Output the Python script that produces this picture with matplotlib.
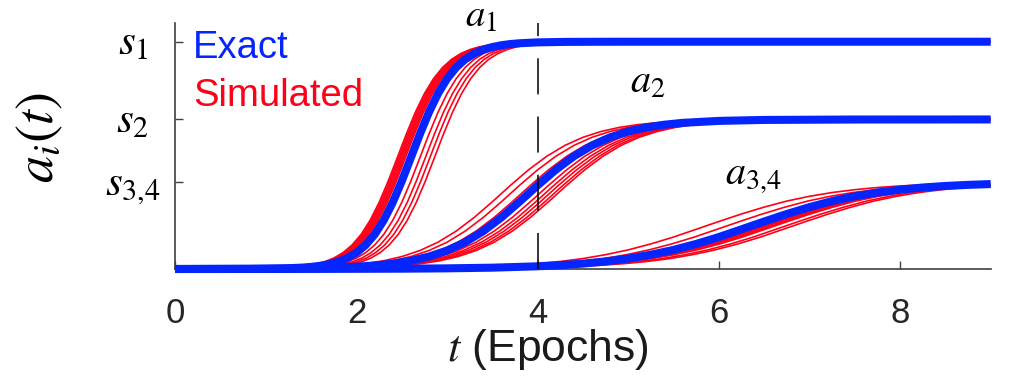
import matplotlib
matplotlib.use("Agg")
import matplotlib.pyplot as plt
import numpy as np

plt.rcParams['font.family'] = ['Liberation Sans', 'DejaVu Sans']
plt.rcParams['mathtext.fontset'] = 'stix'

# exact trajectories (y in units of s1)
a1_t = [0, 0.8, 1.2, 1.4, 1.5, 1.6, 1.7, 1.8, 1.9, 2.0, 2.1, 2.2, 2.3, 2.4, 2.5,
        2.6, 2.7, 2.8, 2.9, 3.0, 3.1, 3.2, 3.3, 3.4, 3.5, 3.6, 3.7, 3.8, 4.0,
        4.3, 4.7, 5.5, 9.0]
a1_exact = [0.0, 0.0005, 0.0027, 0.0062, 0.0094, 0.0142, 0.0215, 0.0323, 0.0483,
            0.0718, 0.1053, 0.1519, 0.2142, 0.2932, 0.3870, 0.4900, 0.5939, 0.6900,
            0.7721, 0.8375, 0.8869, 0.9227, 0.9478, 0.9651, 0.9768, 0.9846, 0.9899,
            0.9933, 0.9971, 0.9992, 0.9998, 1.0, 1.0]

a2_t = [0, 1.0, 1.6, 2.0, 2.2, 2.4, 2.6, 2.8, 3.0, 3.2, 3.4, 3.6, 3.8, 4.0, 4.2,
        4.4, 4.6, 4.8, 5.0, 5.2, 5.4, 5.6, 6.0, 6.5, 7.5, 9.0]
a2_exact = [0.0001, 0.0011, 0.0042, 0.0101, 0.0156, 0.0239, 0.0363, 0.0547, 0.0813,
            0.1181, 0.1668, 0.2271, 0.2962, 0.3683, 0.4367, 0.4961, 0.5438, 0.5796,
            0.6052, 0.6230, 0.6350, 0.6431, 0.6517, 0.6559, 0.6577, 0.658]

a34_t = [0, 1.5, 2.5, 3.0, 3.5, 4.0, 4.25, 4.5, 4.75, 5.0, 5.25, 5.5, 5.75, 6.0,
         6.25, 6.5, 6.75, 7.0, 7.25, 7.5, 7.75, 8.0, 8.25, 8.5, 8.75, 9.0]
a34_exact = [0.0, 0.0003, 0.0014, 0.0029, 0.0059, 0.0119, 0.0169, 0.0238, 0.0333,
             0.0460, 0.0631, 0.0843, 0.1104, 0.1407, 0.1748, 0.2091, 0.2422, 0.2724,
             0.2989, 0.3199, 0.3365, 0.3490, 0.3586, 0.3654, 0.3702, 0.3737]

# simulated runs: time offset of each run relative to the exact curve
a1_delays = [-0.15, -0.135, -0.12, -0.105, -0.09, -0.075, -0.06,
             0.10, 0.16, 0.21, 0.26]
a2_delays = [-0.30, -0.20, -0.08, 0.12, 0.18, 0.23, 0.28, 0.32]
a34_delays = [-0.50, -0.27, 0.10, 0.14, 0.18, 0.22, 0.26, 0.38, 0.46]

s_levels = [1.0, 0.658, 0.382]
s_labels = [r'$s_1$', r'$s_2$', r'$s_{3{,}4}$']
x_ticks = [0, 2, 4, 6, 8]

blue = '#0525ff'
red = '#ff0019'

fig = plt.figure(figsize=(10.24, 3.87), dpi=100)
ax = fig.add_axes([0.1712, 0.3049, 0.7963, 0.6364])

groups = [(a1_t, a1_exact, a1_delays), (a2_t, a2_exact, a2_delays),
          (a34_t, a34_exact, a34_delays)]
for t, a, delays in groups:
    t = np.array(t)
    for d in delays:
        ax.plot(t + d, a, color=red, lw=1.2, zorder=2)
for t, a, delays in groups:
    ax.plot(t, a, color=blue, lw=5.8, zorder=3, clip_on=False,
            solid_capstyle='butt')

ytop = 1.0836
ax.plot([4, 4], [0, ytop], color='black', lw=1.1, ls=(0, (23.6, 14.5)),
        zorder=4, clip_on=False)

ax.set_xlim(0, 9)
ax.set_ylim(0, ytop)
ax.spines['top'].set_visible(False)
ax.spines['right'].set_visible(False)
for sp in ['left', 'bottom']:
    ax.spines[sp].set_color('#404040')
    ax.spines[sp].set_linewidth(1.2)

ax.set_xticks(x_ticks)
ax.set_xticklabels([str(v) for v in x_ticks])
ax.tick_params(axis='x', direction='in', length=6, width=1, color='#404040',
               labelsize=25, labelcolor='#262626', pad=20)
ax.set_yticks(s_levels)
ax.set_yticklabels([])
ax.tick_params(axis='y', direction='in', length=6, width=1, color='#404040')
for lev, lab in zip(s_levels, s_labels):
    ax.text(-0.0519, lev - 0.055, lab, transform=ax.get_yaxis_transform(),
            ha='center', va='baseline', fontsize=31, color='black')

# labels of the curves
ax.text(3.20, 1.064, r'$a_1$', fontsize=28, ha='left', va='baseline')
ax.text(5.02, 0.774, r'$a_2$', fontsize=29, ha='left', va='baseline')
ax.text(6.07, 0.3695, r'$a_{3{,}4}$', fontsize=29, ha='left', va='baseline')

# legend as coloured text
ax.text(0.195, 0.928, 'Exact', color=blue, fontsize=27.5, va='baseline')
ax.text(0.195, 0.717, 'Simulated', color=red, fontsize=27.5, va='baseline')

fig.text(40 / 1024, 1 - 137.5 / 387, r'$a_i(t)$', rotation=90, ha='center',
         va='center', fontsize=39)
fig.text(547.5 / 1024, 1 - 361 / 387, r'$t$ (Epochs)', ha='center',
         va='baseline', fontsize=32, color='#1a1a1a')

fig.savefig('out.png', dpi=100)
